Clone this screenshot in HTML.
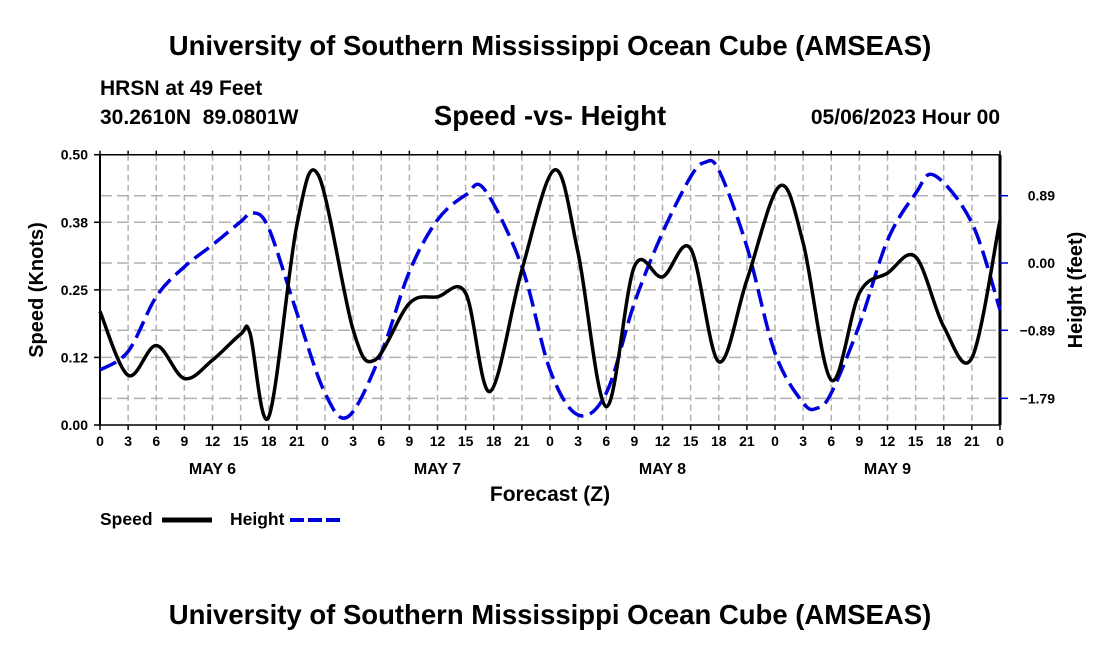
<!DOCTYPE html>
<html><head><meta charset="utf-8"><style>
body{margin:0;background:#fff;}
svg{display:block;font-family:"Liberation Sans",sans-serif;font-weight:bold;}
</style></head><body>
<svg id="chart" width="1100" height="650">
<text x="550" y="55" text-anchor="middle" font-size="27.5">University of Southern Mississippi Ocean Cube (AMSEAS)</text>
<text x="100" y="95" font-size="21">HRSN at 49 Feet</text>
<text x="100" y="124" font-size="21" xml:space="preserve">30.2610N  89.0801W</text>
<text x="550" y="125" text-anchor="middle" font-size="27.5">Speed -vs- Height</text>
<text x="1000" y="124" text-anchor="end" font-size="21">05/06/2023 Hour 00</text>
<text x="550" y="501" text-anchor="middle" font-size="21">Forecast (Z)</text>
<text transform="translate(43,290) rotate(-90)" text-anchor="middle" font-size="20">Speed (Knots)</text>
<text transform="translate(1082,290) rotate(-90)" text-anchor="middle" font-size="20">Height (feet)</text>
<g>
<text x="100" y="525" font-size="17.5">Speed</text>
<line x1="162" y1="520" x2="212" y2="520" stroke="#000" stroke-width="5"/>
<text x="230" y="525" font-size="17.5">Height</text>
<line x1="290" y1="520" x2="342" y2="520" stroke="#0000dd" stroke-width="4" stroke-dasharray="14,4"/>
</g>
<text x="550" y="624" text-anchor="middle" font-size="27.5">University of Southern Mississippi Ocean Cube (AMSEAS)</text>
</svg>
<script>
const speedHours=[0,3,6,9,12,15,16,18,21,23.3,27,29.3,33,36,39,41.6,45,48.5,51,54,57,60,63,66,69,72.5,75,78,81,84,87,90,93,96];
const speedValues=[0.21,0.092,0.147,0.086,0.12,0.168,0.17,0.015,0.37,0.462,0.176,0.12,0.225,0.237,0.244,0.062,0.287,0.472,0.318,0.034,0.293,0.274,0.326,0.117,0.268,0.442,0.337,0.083,0.244,0.281,0.311,0.182,0.124,0.379];
const heightHours=[0,3,6,9,12,15,16.3,18,21,24,26.5,30,33,36,39,41,45,48,51,54,57,60,63,64.5,66,69,72,75,76.5,78,81,84,87,89,93,96];
const heightValues=[-1.415,-1.17,-0.446,-0.05,0.24,0.546,0.665,0.46,-0.66,-1.72,-2.03,-1.19,-0.115,0.57,0.9,0.975,-0.05,-1.415,-2.01,-1.72,-0.53,0.4,1.14,1.33,1.23,0.216,-1.19,-1.85,-1.92,-1.72,-0.82,0.30,0.92,1.16,0.53,-0.62];
const leftTicks=[0,0.125,0.25,0.375,0.5];
const leftTickLabels=["0.00","0.12","0.25","0.38","0.50"];
const rightTicks=[-1.79,-0.89,0,0.89];
const rightTickLabels=["\u22121.79","\u22120.89","0.00","0.89"];
const xTickLabels=["0","3","6","9","12","15","18","21"];
const dayLabels=["MAY 6","MAY 7","MAY 8","MAY 9"];

const L=100,R=1000,T=154.7,B=425;
const xS=h=>L+h*(R-L)/96;
const yL=v=>B-v*(B-T)/0.5;
const yR=v=>263-v*75.6;
const svg=document.getElementById('chart');
const NS='http://www.w3.org/2000/svg';
function mk(tag,attrs){const e=document.createElementNS(NS,tag);for(const k in attrs)e.setAttribute(k,attrs[k]);svg.appendChild(e);return e;}
for(let i=1;i<32;i++){const x=xS(i*3);
const g=mk('line',{x1:x,y1:T,x2:x,y2:B,stroke:'#b0b0b0','stroke-width':1.5,'stroke-dasharray':'6,4'});

}
leftTicks.slice(1,4).forEach(v=>{const g=mk('line',{x1:L,y1:yL(v),x2:R,y2:yL(v),stroke:'#b0b0b0','stroke-width':1.5,'stroke-dasharray':'12,5'});

});
rightTicks.forEach(v=>{const g=mk('line',{x1:L,y1:yR(v),x2:R,y2:yR(v),stroke:'#b0b0b0','stroke-width':1.5,'stroke-dasharray':'12,5'});

});
[[L,T,R,T,1.5],[L,B,R,B,1.5],[L,T,L,B,2],[R,T,R,B,3]].forEach(a=>{const f=mk('line',{x1:a[0],y1:a[1],x2:a[2],y2:a[3],stroke:'#000','stroke-width':a[4]});

});
leftTicks.forEach((v,i)=>{const y=yL(v);
mk('line',{x1:L-6,y1:y,x2:L,y2:y,stroke:'#000','stroke-width':1.5});
const t=mk('text',{x:L-12,y:y+5,'text-anchor':'end','font-size':14});t.textContent=leftTickLabels[i];

});
rightTicks.forEach((v,i)=>{const y=yR(v);
mk('line',{x1:R,y1:y,x2:R+8,y2:y,stroke:'#0000dd','stroke-width':1.5});
const t=mk('text',{x:1055,y:y+5,'text-anchor':'end','font-size':14});t.textContent=rightTickLabels[i];

});
for(let i=0;i<=32;i++){const x=xS(i*3);
mk('line',{x1:x,y1:B,x2:x,y2:B+5,stroke:'#000','stroke-width':1.5});
mk('line',{x1:x,y1:T-4,x2:x,y2:T,stroke:'#000','stroke-width':1.5});
const t=mk('text',{x:x,y:446,'text-anchor':'middle','font-size':14});t.textContent=xTickLabels[i%8];

}
dayLabels.forEach((d,i)=>{const t=mk('text',{x:xS(i*24+12),y:474,'text-anchor':'middle','font-size':16});t.textContent=d;

});
function path(xs,ys){const p=xs.map((h,i)=>[h,ys[i]]);let d='M'+p[0][0]+','+p[0][1];
for(let i=0;i<p.length-1;i++){const p0=p[Math.max(0,i-1)],p1=p[i],p2=p[i+1],p3=p[Math.min(p.length-1,i+2)];
const c1=[p1[0]+(p2[0]-p0[0])/6,p1[1]+(p2[1]-p0[1])/6],c2=[p2[0]-(p3[0]-p1[0])/6,p2[1]-(p3[1]-p1[1])/6];
d+=' C'+c1+' '+c2+' '+p2;}return d;}
const hp=mk('path',{d:path(heightHours.map(xS),heightValues.map(yR)),fill:'none',stroke:'#0000dd','stroke-width':3.5,'stroke-dasharray':'18,7'});


const sp=mk('path',{d:path(speedHours.map(xS),speedValues.map(yL)),fill:'none',stroke:'#000','stroke-width':3.5});


</script>
</body></html>
